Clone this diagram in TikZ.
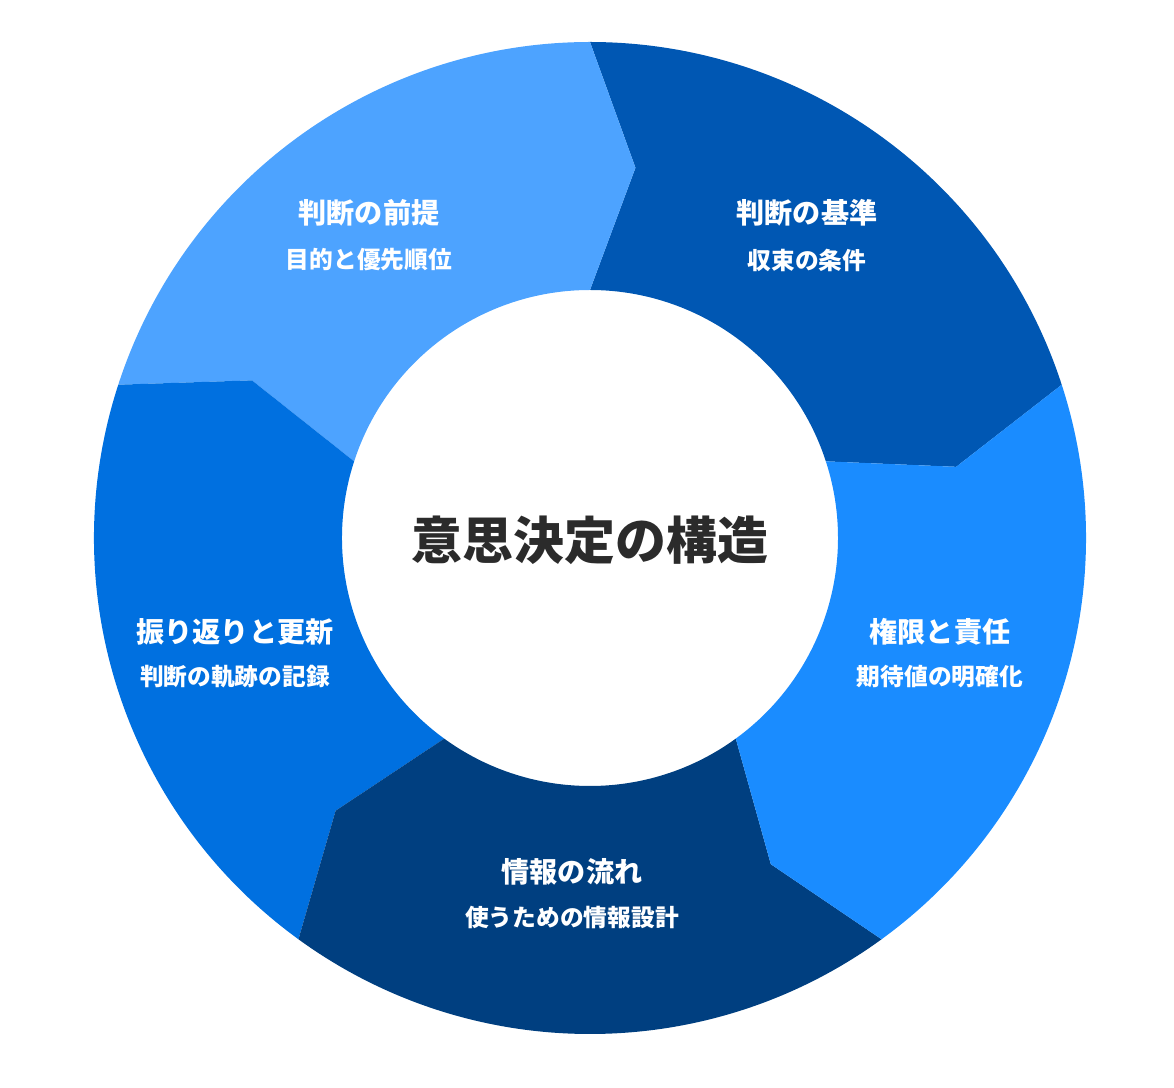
\documentclass[tikz,border=0pt]{standalone}
\usepackage{fontspec}
\setmainfont{Noto Sans CJK JP}
\definecolor{segA}{HTML}{0057B3}
\definecolor{segB}{HTML}{4DA3FF}
\definecolor{segC}{HTML}{0070E0}
\definecolor{segD}{HTML}{003F80}
\definecolor{segE}{HTML}{1A8CFF}
\definecolor{hubtext}{HTML}{2B2B2B}
\tikzset{
    segtitle/.style={text=white, font=\bfseries\fontsize{16}{18}\selectfont},
    segsub/.style={text=white, font=\bfseries\fontsize{13.5}{16}\selectfont},
}
\begin{document}
\begin{tikzpicture}[x=0.02cm, y=0.02cm]
        \useasboundingbox (-590,-550) rectangle (584,538);
        \foreach \b/\c in {18/segA, 90/segB, 162/segC, 234/segD, 306/segE} {
            \pgfmathsetmacro{\bnext}{\b + 72}
            \pgfmathsetmacro{\tipa}{\b - 7}
            \pgfmathsetmacro{\tipb}{\bnext - 7}
            \fill[\c]
                (\b:496) arc[start angle=\b, end angle=\bnext, radius=496]
                -- (\tipb:373) -- (\bnext:248)
                arc[start angle=\bnext, end angle=\b, radius=248]
                -- (\tipa:373) -- cycle;
        }
        \fill[white] (0,0) circle (247);
        \node[text=hubtext, font=\bfseries\fontsize{29}{32}\selectfont] (hub) at (0,-2) {意思決定の構造};
        \node[segtitle] (premise) at (-221,325) {判断の前提};
        \node[segsub] (premisesub) at (-221,278) {目的と優先順位};
        \node[segtitle] (criteria) at (217,325) {判断の基準};
        \node[segsub] (criteriasub) at (217,278) {収束の条件};
        \node[segtitle] (authority) at (350,-94) {権限と責任};
        \node[segsub] (authoritysub) at (350,-139) {期待値の明確化};
        \node[segtitle] (flow) at (-18,-334) {情報の流れ};
        \node[segsub] (flowsub) at (-18,-379) {使うための情報設計};
        \node[segtitle] (review) at (-355,-94) {振り返りと更新};
        \node[segsub] (reviewsub) at (-355,-139) {判断の軌跡の記録};
    \end{tikzpicture}
\end{document}
